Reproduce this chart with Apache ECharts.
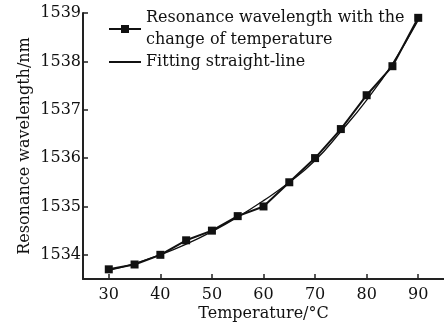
<!DOCTYPE html>
<html><head><meta charset="utf-8">
<script src="https://cdn.jsdelivr.net/npm/echarts@6/dist/echarts.min.js"></script>
<style>html,body{margin:0;padding:0;background:#fff}#c{width:444px;height:326px}</style>
</head><body><div id="c"></div>
<script>
const temperatures = [30, 35, 40, 45, 50, 55, 60, 65, 70, 75, 80, 85, 90];
const measured = [1533.7, 1533.8, 1534.0, 1534.3, 1534.5, 1534.8, 1535.0, 1535.5, 1536.0, 1536.6, 1537.3, 1537.9, 1538.9];
const fitted = [1533.68, 1533.82, 1534.0, 1534.22, 1534.48, 1534.78, 1535.12, 1535.5, 1535.95, 1536.55, 1537.2, 1537.95, 1538.85];
const xTicks = [30, 40, 50, 60, 70, 80, 90];
const yTicks = [1534, 1535, 1536, 1537, 1538, 1539];
const seriesNames = ['Resonance wavelength with the\nchange of temperature', 'Fitting straight-line'];
const xTitle = 'Temperature/°C';
const yTitle = 'Resonance wavelength/nm';

const font = 'DejaVu Serif';
const chart = echarts.init(document.getElementById('c'), null, {renderer: 'canvas'});
chart.setOption({
  animation: false,
  grid: {left: 83, right: 0, top: 13, bottom: 47, outerBoundsMode: 'none', containLabel: false},
  legend: {
    orient: 'vertical', left: 103, top: 2, itemWidth: 32, itemHeight: 10, itemGap: 0,
    textStyle: {fontFamily: font, fontSize: 16, color: '#111', lineHeight: 22},
    data: [{name: seriesNames[0]}, {name: seriesNames[1], itemStyle: {opacity: 0}}]
  },
  xAxis: {
    type: 'value', min: 25, max: 95,
    name: xTitle, nameLocation: 'middle', nameGap: 27, nameMoveOverlap: false,
    nameTextStyle: {fontFamily: font, fontSize: 16, color: '#111'},
    axisLine: {lineStyle: {color: '#222', width: 2}},
    axisTick: {inside: true, length: 5, customValues: xTicks, lineStyle: {color: '#222', width: 1.5}},
    axisLabel: {fontFamily: font, fontSize: 16, color: '#111', margin: 8, customValues: xTicks,
      formatter: v => String(v)},
    splitLine: {show: false}
  },
  yAxis: {
    type: 'value', min: 1533.5, max: 1539,
    name: yTitle, nameLocation: 'middle', nameGap: 50, nameMoveOverlap: false,
    nameTextStyle: {fontFamily: font, fontSize: 16, color: '#111'},
    axisLine: {show: true, lineStyle: {color: '#222', width: 2}},
    axisTick: {show: true, inside: true, length: 5, customValues: yTicks, lineStyle: {color: '#222', width: 1.5}},
    axisLabel: {fontFamily: font, fontSize: 16, color: '#111', margin: 2, customValues: yTicks,
      formatter: v => String(v)},
    splitLine: {show: false}
  },
  series: [
    {
      name: seriesNames[0], type: 'line',
      data: temperatures.map((t, i) => [t, measured[i]]),
      symbol: 'rect', symbolSize: 8,
      lineStyle: {color: '#111', width: 2},
      itemStyle: {color: '#111'}
    },
    {
      name: seriesNames[1], type: 'line', smooth: true,
      data: temperatures.map((t, i) => [t, fitted[i]]),
      symbol: 'none',
      lineStyle: {color: '#111', width: 1.3},
      itemStyle: {color: '#111'}
    }
  ]
});
</script></body></html>
